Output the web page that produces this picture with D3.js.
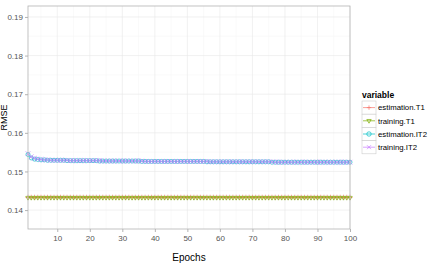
<!DOCTYPE html>
<html><head><meta charset="utf-8">
<script src="https://cdn.jsdelivr.net/npm/d3@7"></script>
<style>body{margin:0;background:#fff}svg{display:block;font-family:"Liberation Sans",Arial,sans-serif}</style>
</head><body><svg id="c" width="430" height="265"></svg>
<script>
const seriesNames = ["estimation.T1","training.T1","estimation.IT2","training.IT2"];
const seriesColors = ["#F8766D","#7CAE00","#00BFC4","#C77CFF"];
const xTicks = [10,20,30,40,50,60,70,80,90,100];
const yTicks = [0.14,0.15,0.16,0.17,0.18,0.19];
const epochs = [1,2,3,4,5,6,7,8,9,10,11,12,13,14,15,16,17,18,19,20,21,22,23,24,25,26,27,28,29,30,31,32,33,34,35,36,37,38,39,40,41,42,43,44,45,46,47,48,49,50,51,52,53,54,55,56,57,58,59,60,61,62,63,64,65,66,67,68,69,70,71,72,73,74,75,76,77,78,79,80,81,82,83,84,85,86,87,88,89,90,91,92,93,94,95,96,97,98,99,100];
const estimationT1 = [
.1433,.1433,.1433,.1433,.1433,.1433,.1433,.1433,.1433,.1433,
.1433,.1433,.1433,.1433,.1433,.1433,.1433,.1433,.1433,.1433,
.1433,.1433,.1433,.1433,.1433,.1433,.1433,.1433,.1433,.1433,
.1433,.1433,.1433,.1433,.1433,.1433,.1433,.1433,.1433,.1433,
.1433,.1433,.1433,.1433,.1433,.1433,.1433,.1433,.1433,.1433,
.1433,.1433,.1433,.1433,.1433,.1433,.1433,.1433,.1433,.1433,
.1433,.1433,.1433,.1433,.1433,.1433,.1433,.1433,.1433,.1433,
.1433,.1433,.1433,.1433,.1433,.1433,.1433,.1433,.1433,.1433,
.1433,.1433,.1433,.1433,.1433,.1433,.1433,.1433,.1433,.1433,
.1433,.1433,.1433,.1433,.1433,.1433,.1433,.1433,.1433,.1433];
const trainingT1 = [
.1432,.1432,.1432,.1432,.1432,.1432,.1432,.1432,.1432,.1432,
.1432,.1432,.1432,.1432,.1432,.1432,.1432,.1432,.1432,.1432,
.1432,.1432,.1432,.1432,.1432,.1432,.1432,.1432,.1432,.1432,
.1432,.1432,.1432,.1432,.1432,.1432,.1432,.1432,.1432,.1432,
.1432,.1432,.1432,.1432,.1432,.1432,.1432,.1432,.1432,.1432,
.1432,.1432,.1432,.1432,.1432,.1432,.1432,.1432,.1432,.1432,
.1432,.1432,.1432,.1432,.1432,.1432,.1432,.1432,.1432,.1432,
.1432,.1432,.1432,.1432,.1432,.1432,.1432,.1432,.1432,.1432,
.1432,.1432,.1432,.1432,.1432,.1432,.1432,.1432,.1432,.1432,
.1432,.1432,.1432,.1432,.1432,.1432,.1432,.1432,.1432,.1432];
const estimationIT2 = [
.1544,.1535,.1532,.1531,.1530,.1530,.1529,.1529,.1529,.1529,
.1529,.1529,.1528,.1528,.1528,.1528,.1528,.1528,.1528,.1528,
.1528,.1528,.1527,.1527,.1527,.1527,.1527,.1527,.1527,.1527,
.1527,.1527,.1527,.1527,.1527,.1526,.1526,.1526,.1526,.1526,
.1526,.1526,.1526,.1526,.1526,.1526,.1526,.1526,.1526,.1526,
.1526,.1526,.1526,.1526,.1526,.1525,.1525,.1525,.1525,.1525,
.1525,.1525,.1525,.1525,.1525,.1525,.1525,.1525,.1525,.1525,
.1525,.1525,.1525,.1525,.1525,.1524,.1524,.1524,.1524,.1524,
.1524,.1524,.1524,.1524,.1524,.1524,.1524,.1524,.1524,.1524,
.1524,.1524,.1524,.1524,.1524,.1524,.1524,.1524,.1524,.1524];
const trainingIT2 = [
.1546,.1538,.1534,.1532,.1531,.1530,.1530,.1529,.1529,.1529,
.1529,.1529,.1529,.1528,.1528,.1528,.1528,.1528,.1528,.1528,
.1528,.1528,.1528,.1527,.1527,.1527,.1527,.1527,.1527,.1527,
.1527,.1527,.1527,.1527,.1527,.1527,.1526,.1526,.1526,.1526,
.1526,.1526,.1526,.1526,.1526,.1526,.1526,.1526,.1526,.1526,
.1526,.1526,.1526,.1526,.1526,.1526,.1525,.1525,.1525,.1525,
.1525,.1525,.1525,.1525,.1525,.1525,.1525,.1525,.1525,.1525,
.1525,.1525,.1525,.1525,.1525,.1525,.1524,.1524,.1524,.1524,
.1524,.1524,.1524,.1524,.1524,.1524,.1524,.1524,.1524,.1524,
.1524,.1524,.1524,.1524,.1524,.1524,.1524,.1524,.1524,.1524];
const seriesValues = [estimationT1, trainingT1, estimationIT2, trainingIT2];

const svg = d3.select("#c");
const L = 28, R = 350, T = 6, B = 229;
const x = d3.scaleLinear().domain([1,100]).range([L,R]);
const y = d3.scaleLinear().domain([0.14 - 19/38.8*0.01, 0.19 + 11/38.8*0.01]).range([B,T]);

svg.append("rect").attr("x",L).attr("y",T).attr("width",R-L).attr("height",B-T).attr("fill","#fff");
const yMinor = [0.145,0.155,0.165,0.175,0.185];
const xMinor = [5,15,25,35,45,55,65,75,85,95];
const g = svg.append("g");
g.selectAll(".ym").data(yMinor).join("line").attr("x1",L).attr("x2",R).attr("y1",d=>y(d)).attr("y2",d=>y(d)).attr("stroke","#f7f7f7").attr("stroke-width",0.6);
g.selectAll(".xm").data(xMinor).join("line").attr("y1",T).attr("y2",B).attr("x1",d=>x(d)).attr("x2",d=>x(d)).attr("stroke","#f7f7f7").attr("stroke-width",0.6);
g.selectAll(".yM").data(yTicks).join("line").attr("x1",L).attr("x2",R).attr("y1",d=>y(d)).attr("y2",d=>y(d)).attr("stroke","#e8e8e8").attr("stroke-width",0.6);
g.selectAll(".xM").data(xTicks).join("line").attr("y1",T).attr("y2",B).attr("x1",d=>x(d)).attr("x2",d=>x(d)).attr("stroke","#e8e8e8").attr("stroke-width",0.6);

const xAxis = svg.append("g").attr("transform",`translate(0,${B})`)
  .call(d3.axisBottom(x).tickValues(xTicks).tickSize(3).tickPadding(3).tickFormat(d3.format("d")));
const yAxis = svg.append("g").attr("transform",`translate(${L},0)`)
  .call(d3.axisLeft(y).tickValues(yTicks).tickSize(3).tickPadding(2).tickFormat(d3.format(".2f")));
[xAxis,yAxis].forEach(a=>{
  a.select(".domain").remove();
  a.selectAll(".tick line").attr("stroke","#7f7f7f").attr("stroke-width",0.6);
  a.selectAll(".tick text").attr("fill","#555").style("font-size","8px");
});

const sym = {
  0: r=>`M${-r},0H${r}M0,${-r}V${r}`,
  1: r=>`M${-r},${-r*0.6}L${r},${-r*0.6}L0,${r*1.1}Z`,
  2: r=>`M${r},0A${r},${r} 0 1,1 ${-r},0A${r},${r} 0 1,1 ${r},0`,
  3: r=>`M${-r*0.9},${-r*0.9}L${r*0.9},${r*0.9}M${-r*0.9},${r*0.9}L${r*0.9},${-r*0.9}`
};
const sizes = [2.6,2.2,2.0,2.6];
const line = d3.line().x(d=>x(d[0])).y(d=>y(d[1]));
seriesValues.forEach((vals,i)=>{
  const pts = epochs.map((e,j)=>[e,vals[j]]);
  const s = svg.append("g").attr("opacity",0.85);
  s.append("path").attr("d",line(pts)).attr("fill","none").attr("stroke",seriesColors[i]).attr("stroke-width",0.6);
  s.selectAll("path.p").data(pts).join("path").attr("class","p")
    .attr("transform",d=>`translate(${x(d[0])},${y(d[1])})`)
    .attr("d",sym[i](sizes[i])).attr("fill","none").attr("stroke",seriesColors[i]).attr("stroke-width",0.8);
});

svg.append("rect").attr("x",L).attr("y",T).attr("width",R-L).attr("height",B-T).attr("fill","none").attr("stroke","#b3b3b3").attr("stroke-width",0.8);

svg.append("text").attr("x",(L+R)/2).attr("y",261).attr("text-anchor","middle").style("font-size","10px").text("Epochs");
svg.append("text").attr("transform",`translate(6.5,${(T+B)/2}) rotate(-90)`).attr("text-anchor","middle").style("font-size","9px").text("RMSE");

const lg = svg.append("g");
lg.append("text").attr("x",362).attr("y",98).style("font-size","8.5px").style("font-weight","bold").text("variable");
seriesNames.forEach((n,i)=>{
  const ky = 101 + i*13.2;
  lg.append("rect").attr("x",362).attr("y",ky).attr("width",14).attr("height",13.2).attr("fill","#fff").attr("stroke","#cccccc").attr("stroke-width",0.6);
  lg.append("line").attr("x1",363).attr("x2",375).attr("y1",ky+6.6).attr("y2",ky+6.6).attr("stroke",seriesColors[i]).attr("stroke-width",0.7);
  lg.append("path").attr("transform",`translate(369,${ky+6.6})`).attr("d",sym[i](2.2)).attr("fill","none").attr("stroke",seriesColors[i]).attr("stroke-width",0.7);
  lg.append("text").attr("x",378).attr("y",ky+9.4).style("font-size","7.8px").text(n);
});
</script></body></html>
